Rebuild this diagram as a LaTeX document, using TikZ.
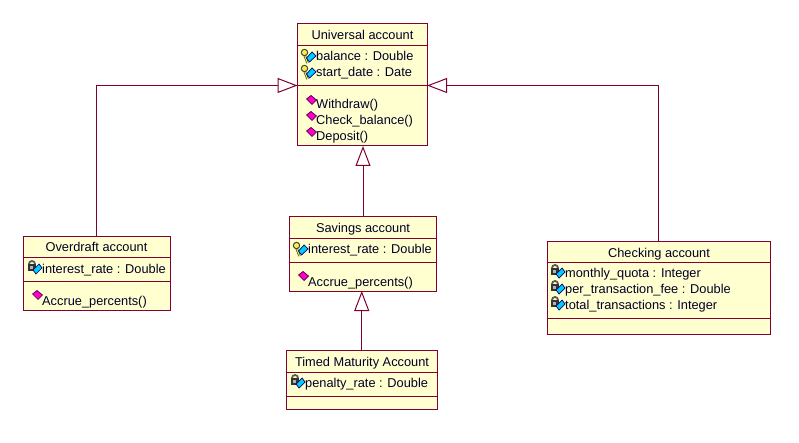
\documentclass[tikz,border=0pt]{standalone}
\usepackage{fontspec}
\setmainfont{Liberation Sans}
\usetikzlibrary{arrows.meta}
\definecolor{umlline}{RGB}{128,0,50}
\definecolor{umlfill}{RGB}{255,255,208}
\definecolor{umlcyan}{RGB}{0,204,255}
\definecolor{umlmagenta}{RGB}{255,0,204}
\definecolor{umlkey}{RGB}{250,240,60}
\tikzset{
  classbox/.style={draw=umlline, fill=umlfill, line width=1pt, anchor=north west, inner sep=0pt, outer sep=0pt},
  partline/.style={draw=umlline, line width=1pt},
  generalize/.style={draw=umlline, line width=1pt, -{Triangle[open, length=20pt, width=15pt, fill=white]}},
  title/.style={anchor=center, font=\fontsize{12.8}{14}\selectfont, inner sep=0pt, text height=9pt, text depth=3pt, text=black!85!blue},
  member/.style={anchor=west, font=\fontsize{12.8}{14}\selectfont, inner sep=0pt, text height=9pt, text depth=3pt, text=black!85!blue},
  keyicon/.pic={
    \draw[draw=black!75, line width=2.4pt] (-4.5,-1) -- (-1.5,7);
    \draw[draw=umlkey, line width=1pt] (-4.5,-1) -- (-1.5,7);
    \draw[fill=umlkey, draw=black!75, line width=1pt] (-4.5,-3.5) circle (3.2);
    \draw[fill=umlcyan, draw=black!60!blue, line width=.7pt] (-2.5,2) -- (3,-4) -- (7,0) -- (0.5,6) -- cycle;
  },
  lockicon/.pic={
    \draw[draw=black!65, line width=1.8pt] (-5,-4) arc (180:360:3);
    \fill[black!80] (-6,-4) rectangle (2,2.5);
    \fill[black!30] (-4.5,-2) rectangle (-1,0.5);
    \draw[fill=umlcyan, draw=black!60!blue, line width=.7pt] (-1,2) -- (5,-4) -- (8,0) -- (2,6) -- cycle;
  },
  opicon/.pic={
    \draw[fill=umlmagenta, draw=black!70!umlmagenta, line width=.7pt] (-4.5,-1) -- (0,-4.5) -- (5.5,0) -- (1,4.5) -- cycle;
  }
}
\begin{document}
\begin{tikzpicture}[x=1pt, y=-1pt]
\useasboundingbox (0,0) rectangle (799,443);
% boxes
\node[classbox, minimum width=129.5pt, minimum height=122pt] (universal) at (297.5,24) {};
\node[classbox, minimum width=146.5pt, minimum height=73.5pt] (overdraft) at (23.5,236.5) {};
\node[classbox, minimum width=147pt, minimum height=74.5pt] (savings) at (289.5,216.5) {};
\node[classbox, minimum width=150.5pt, minimum height=58.5pt] (timed) at (286.5,350.5) {};
\node[classbox, minimum width=222.5pt, minimum height=92.5pt] (checking) at (547.5,241.5) {};
% compartments
\draw[partline] (297.5,45.5) -- (427,45.5);
\draw[partline] (297.5,85.5) -- (427,85.5);
\draw[partline] (23.5,257.5) -- (170,257.5);
\draw[partline] (23.5,281.5) -- (170,281.5);
\draw[partline] (289.5,238.5) -- (436.5,238.5);
\draw[partline] (289.5,262.5) -- (436.5,262.5);
\draw[partline] (286.5,372.5) -- (437,372.5);
\draw[partline] (286.5,396.5) -- (437,396.5);
\draw[partline] (547.5,262.5) -- (770,262.5);
\draw[partline] (547.5,318.5) -- (770,318.5);
% inheritance
\coordinate (universalw) at (297.5,85.5);
\coordinate (universale) at (427,85.5);
\draw[generalize] (overdraft.north) |- (universalw);
\draw[generalize] (checking.north) |- (universale);
\draw[generalize] (savings.north) -- (savings.north |- universal.south);
\draw[generalize] (timed.north) -- (timed.north |- savings.south);
% universal account
\node[title] (universalname) at (362.5,37) {Universal account};
\pic at (309,56) {keyicon};
\node[member] (balance) at (316,58) {balance : Double};
\pic at (309,72) {keyicon};
\node[member] (startdate) at (316,74) {start\_date : Date};
\pic at (311,100) {opicon};
\node[member] (withdraw) at (316,106) {Withdraw()};
\pic at (311,116) {opicon};
\node[member] (checkbalance) at (316,122) {Check\_balance()};
\pic at (311,132) {opicon};
\node[member] (deposit) at (316,138) {Deposit()};
% overdraft account
\node[title] (overdraftname) at (96.5,248.7) {Overdraft account};
\pic at (34,268) {lockicon};
\node[member] (overdraftrate) at (42,270) {interest\_rate : Double};
\pic at (37,295) {opicon};
\node[member] (overdraftaccrue) at (42,302) {Accrue\_percents()};
% savings account
\node[title] (savingsname) at (363,229.7) {Savings account};
\pic at (301,249) {keyicon};
\node[member] (savingsrate) at (308,251) {interest\_rate : Double};
\pic at (303,276) {opicon};
\node[member] (savingsaccrue) at (308,283) {Accrue\_percents()};
% timed maturity account
\node[title] (timedname) at (362,363.7) {Timed Maturity Account};
\pic at (297,382) {lockicon};
\node[member] (penalty) at (305,384) {penalty\_rate : Double};
% checking account
\node[title] (checkingname) at (659,254.7) {Checking account};
\pic at (557,272) {lockicon};
\node[member] (quota) at (565,274.7) {monthly\_quota : Integer};
\pic at (557,288) {lockicon};
\node[member] (fee) at (565,290.7) {per\_transaction\_fee : Double};
\pic at (557,304) {lockicon};
\node[member] (total) at (565,306.7) {total\_transactions : Integer};
\end{tikzpicture}
\end{document}
